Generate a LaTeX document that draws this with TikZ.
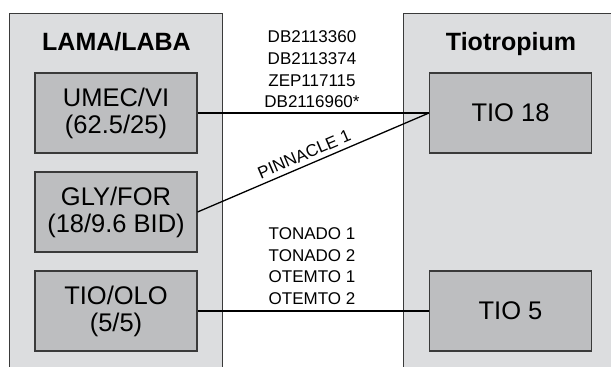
\documentclass[tikz,border=0pt]{standalone}
\usepackage{fontspec}
\setmainfont{Liberation Sans}
\definecolor{panelfill}{HTML}{DCDDDF}
\definecolor{boxfill}{HTML}{BDBEC0}
\definecolor{edge}{HTML}{3A3A3A}
\begin{document}
\begin{tikzpicture}[x=1pt,y=-1pt,
  panel/.style={draw=edge,line width=0.9pt,fill=panelfill},
  drugbox/.style={draw=edge,line width=1.1pt,fill=boxfill,minimum width=162pt,minimum height=80pt,inner sep=0pt,align=center,font=\fontsize{25.5}{27}\selectfont},
  title/.style={font=\fontsize{25}{27}\selectfont\bfseries,anchor=base,inner sep=0pt},
  trial/.style={font=\fontsize{17}{21.7}\selectfont,align=center,inner sep=0pt,anchor=south},
  link/.style={line width=1.3pt,black}]
\useasboundingbox (0,0) rectangle (611,367);
\fill[white] (0,0) rectangle (611,367);
\begin{scope}
\clip (0,0) rectangle (611,367);
\path[panel] (9,13) rectangle (222,380);
\path[panel] (403,13) rectangle (625,380);
\end{scope}
\node[title] (tl) at (116.5,50) {LAMA/LABA};
\node[title] (tr) at (511,50) {Tiotropium};
\node[drugbox] (umec) at (116,113) {UMEC/VI\\(62.5/25)};
\node[drugbox] (gly) at (116,212) {GLY/FOR\\(18/9.6 BID)};
\node[drugbox] (tioolo) at (116,311) {TIO/OLO\\(5/5)};
\node[drugbox] (tio18) at (510.5,113) {TIO 18};
\node[drugbox] (tio5) at (510.5,311) {TIO 5};
\draw[link] (umec.east) -- (tio18.west);
\draw[link] (gly.east) -- node[sloped,above,pos=0.48,inner sep=4.5pt,font=\fontsize{17}{20}\selectfont] (pin) {PINNACLE 1} (tio18.west);
\draw[link] (tioolo.east) -- (tio5.west);
\node[trial] (t1) at (312,108.3) {DB2113360\\DB2113374\\ZEP117115\\DB2116960*};
\node[trial] (t2) at (312,305) {TONADO 1\\TONADO 2\\OTEMTO 1\\OTEMTO 2};
\end{tikzpicture}
\end{document}
